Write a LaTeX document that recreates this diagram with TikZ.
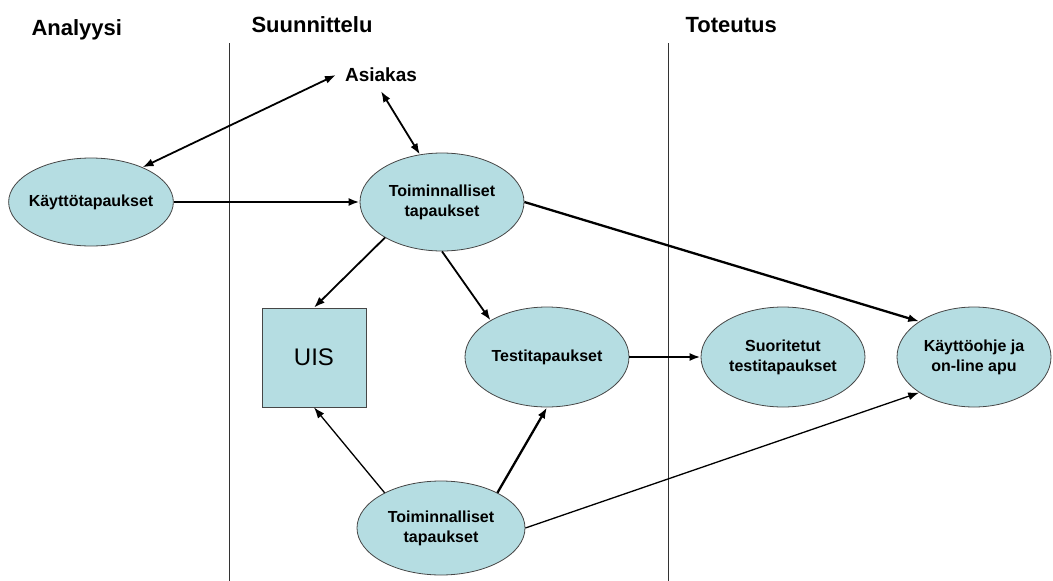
\documentclass[tikz,border=0pt]{standalone}
\usepackage{fontspec}
\setmainfont{Liberation Sans}
\usetikzlibrary{shapes.geometric,arrows.meta}

\definecolor{casefill}{RGB}{181,221,226}
\definecolor{caseline}{RGB}{70,70,70}

\tikzset{
  casenode/.style={ellipse, draw=caseline, line width=0.8pt, fill=casefill,
    inner sep=-4pt, align=center, font=\fontsize{16}{20}\selectfont\bfseries},
  uisbox/.style={rectangle, draw=caseline, line width=0.8pt, fill=casefill,
    minimum width=104pt, minimum height=99pt, inner sep=0pt,
    font=\fontsize{24}{28}\selectfont},
  phase/.style={anchor=base west, font=\fontsize{22}{26}\selectfont\bfseries},
  arr/.style={-{Latex[length=11pt,width=8pt]}},
  biarr/.style={{Latex[length=11pt,width=8pt]}-{Latex[length=11pt,width=8pt]}},
  thinline/.style={line width=1.3pt},
  midline/.style={line width=1.8pt},
  thickline/.style={line width=2.3pt},
  divider/.style={line width=0.9pt, black!80}
}

\begin{document}
\begin{tikzpicture}[x=1pt,y=-1pt]
  \useasboundingbox (0,0) rectangle (1053,581);

  % phase dividers
  \draw[divider] (229,43) -- (229,581);
  \draw[divider] (668,43) -- (668,581);

  % phase headings
  \node[phase] (hA) at (28,35) {Analyysi};
  \node[phase] (hS) at (248,32) {Suunnittelu};
  \node[phase] (hT) at (682,32) {Toteutus};

  % customer
  \node[inner sep=9pt, font=\fontsize{19}{22}\selectfont\bfseries] (as) at (381,75) {Asiakas};

  % artefacts
  \node[casenode, minimum width=162pt, minimum height=88pt] (kt) at (91,202) {Käyttötapaukset};
  \node[casenode, minimum width=164pt, minimum height=98pt] (ta) at (442,202) {Toiminnalliset\\tapaukset};
  \node[uisbox] (uis) at (314,357.5) {UIS};
  \node[casenode, minimum width=164pt, minimum height=100pt] (tt) at (547,357) {Testitapaukset};
  \node[casenode, minimum width=164pt, minimum height=100pt] (so) at (783,357) {Suoritetut\\testitapaukset};
  \node[casenode, minimum width=154pt, minimum height=100pt] (ko) at (974,357) {Käyttöohje ja\\on-line apu};
  \node[casenode, minimum width=168pt, minimum height=94pt] (tb) at (441,528) {Toiminnalliset\\tapaukset};

  % connectors
  \draw[biarr, midline] (kt.34) -- (as.west);
  \draw[biarr, midline] (as.south) -- (ta.115);
  \draw[arr, thickline] (kt) -- (ta);
  \draw[arr, midline] (ta.212) -- (uis.north);
  \draw[arr, midline] (ta.south) -- (tt.147);
  \draw[arr, thickline] (ta.east) -- (ko.147);
  \draw[arr, thickline] (tt) -- (so);
  \draw[arr, thinline] (tb.148) -- (uis.south);
  \draw[arr, thickline] (tb.32) -- (tt.south);
  \draw[arr, thinline] (tb.east) -- (ko.213);
\end{tikzpicture}
\end{document}
